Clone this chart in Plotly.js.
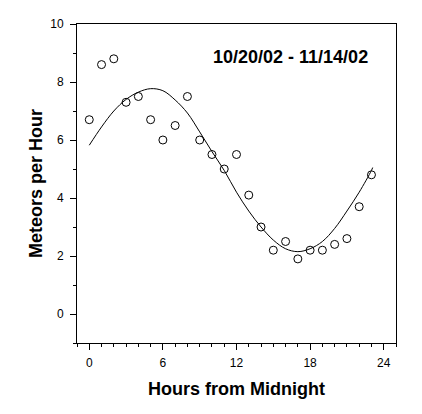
<!DOCTYPE html>
<html>
<head>
<meta charset="utf-8">
<script src="https://cdn.plot.ly/plotly-3.0.1.min.js"></script>
<style>
  html, body { margin: 0; padding: 0; background: #fff; }
  #plot { width: 422px; height: 414px; }
</style>
</head>
<body>
<div id="plot"></div>
<script>
// observed hourly rates
var hours = [0, 1, 2, 3, 4, 5, 6, 7, 8, 9, 10, 11, 12, 13, 14, 15, 16, 17, 18, 19, 20, 21, 22, 23];
var meteors = [6.7, 8.6, 8.8, 7.3, 7.5, 6.7, 6.0, 6.5, 7.5, 6.0, 5.5, 5.0,
               5.5, 4.1, 3.0, 2.2, 2.5, 1.9, 2.2, 2.2, 2.4, 2.6, 3.7, 4.8];

// fitted curve
var fitHours = [0, 1, 2, 3, 4, 5, 6, 7, 8, 9, 10, 11, 12, 13, 14, 15, 16, 17, 18, 19, 20, 21, 22, 23, 23.1];
var fitValues = [5.82, 6.45, 7.0, 7.4, 7.65, 7.77, 7.7, 7.38, 6.93, 6.28, 5.6, 4.95,
                 4.2, 3.55, 3.0, 2.55, 2.25, 2.15, 2.25, 2.5, 2.95, 3.55, 4.2, 4.95, 5.05];

var dateLabel = '10/20/02 - 11/14/02';

var fit = {
    x: fitHours,
    y: fitValues,
    mode: 'lines',
    type: 'scatter',
    line: {color: 'black', width: 1, shape: 'spline'},
    hoverinfo: 'skip'
};

var points = {
    x: hours,
    y: meteors,
    mode: 'markers',
    type: 'scatter',
    marker: {
        symbol: 'circle-open',
        size: 8,
        color: 'black',
        line: {color: 'black', width: 1} }
};

var axisFont = {family: 'Liberation Sans, Arial, sans-serif', size: 18, color: 'black', weight: 'bold'};

var layout = {
    width: 422,
    height: 414,
    margin: {l: 77, r: 26, t: 24, b: 71},
    showlegend: false,
    paper_bgcolor: 'white',
    plot_bgcolor: 'white',
    font: {family: 'Liberation Sans, Arial, sans-serif', size: 12, color: 'black'},
    xaxis: {
        range: [-1, 25],
        tick0: 0,
        dtick: 6,
        ticks: 'outside',
        ticklen: 6,
        tickcolor: 'black',
        ticklabelstandoff: 3,
        showline: true,
        linecolor: 'black',
        linewidth: 1,
        mirror: true,
        showgrid: false,
        zeroline: false,
        minor: {dtick: 1, tick0: 0, ticks: 'outside', ticklen: 3, tickcolor: 'black', showgrid: false},
        title: {text: 'Hours from Midnight', font: axisFont, standoff: 12}
    },
    yaxis: {
        range: [-1, 10],
        tick0: 0,
        dtick: 2,
        ticks: 'outside',
        ticklen: 6,
        tickcolor: 'black',
        ticklabelstandoff: 4,
        showline: true,
        linecolor: 'black',
        linewidth: 1,
        mirror: true,
        showgrid: false,
        zeroline: false,
        minor: {dtick: 1, tick0: 0, ticks: 'outside', ticklen: 3, tickcolor: 'black', showgrid: false},
        title: {text: 'Meteors per Hour', font: axisFont, standoff: 2}
    },
    annotations: [{
        text: dateLabel,
        xref: 'paper', yref: 'paper',
        x: 0.668, y: 0.897,
        xanchor: 'center', yanchor: 'middle',
        showarrow: false,
        font: {family: 'Liberation Sans, Arial, sans-serif', size: 18, color: 'black', weight: 'bold'}
    }]
};

Plotly.newPlot('plot', [fit, points], layout, {staticPlot: true});
</script>
</body>
</html>
